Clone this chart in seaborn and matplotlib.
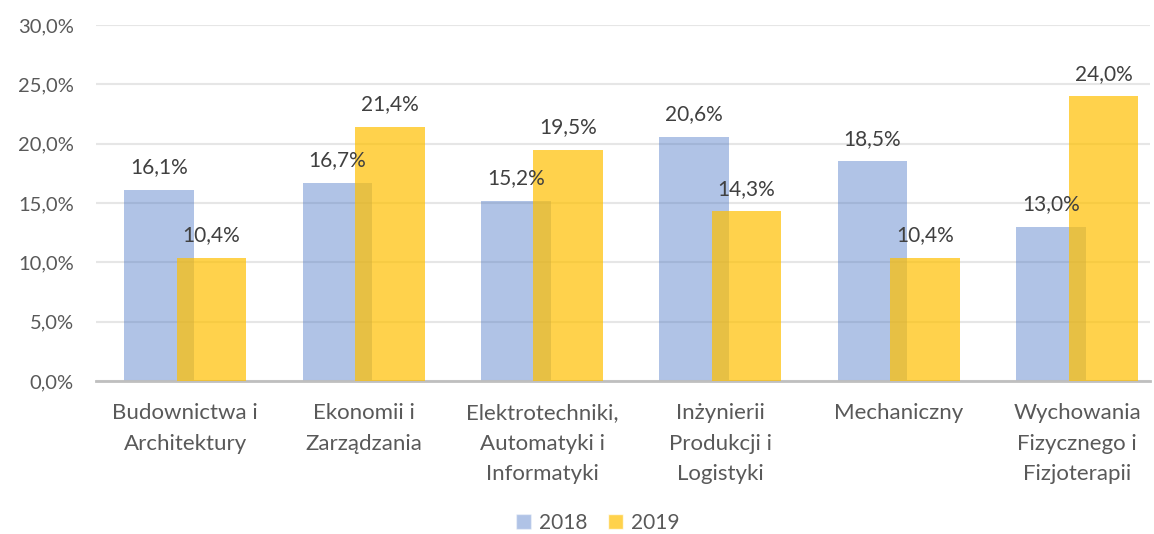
import numpy as np
import pandas as pd
import matplotlib.pyplot as plt
import seaborn as sns
from matplotlib.patches import Patch

categories = ["Budownictwa i\nArchitektury", "Ekonomii i\nZarządzania",
              "Elektrotechniki,\nAutomatyki i\nInformatyki", "Inżynierii\nProdukcji i\nLogistyki",
              "Mechaniczny", "Wychowania\nFizycznego i\nFizjoterapii"]
years = ["2018", "2019"]
values_2018 = [16.1, 16.7, 15.2, 20.6, 18.5, 13.0]
values_2019 = [10.4, 21.4, 19.5, 14.3, 10.4, 24.0]
y_ticks = [0, 5, 10, 15, 20, 25, 30]

blue = "#4472C4"
yellow = "#FFC000"
blue_alpha = 0.42
yellow_alpha = 0.7
label_color = "#595959"
value_color = "#404040"

sns.set_theme(style="white")
plt.rcParams['font.family'] = ['Lato', 'DejaVu Sans']

fig = plt.figure(figsize=(11.54, 5.34), dpi=100)
ax = fig.add_axes([96 / 1154, 153 / 534, 1054 / 1154, 356 / 534])

pos = np.arange(len(categories))
offset = 0.147
width = 0.39

df18 = pd.DataFrame({"x": pos - offset, "y": values_2018})
df19 = pd.DataFrame({"x": pos + offset, "y": values_2019})
sns.barplot(data=df18, x="x", y="y", native_scale=True, width=width,
            color=blue, saturation=1, alpha=blue_alpha, linewidth=0, ax=ax, zorder=2)
sns.barplot(data=df19, x="x", y="y", native_scale=True, width=width,
            color=yellow, saturation=1, alpha=yellow_alpha, linewidth=0, ax=ax, zorder=3)

for xs, vals in [(pos - offset, values_2018), (pos + offset, values_2019)]:
    for x, v in zip(xs, vals):
        ax.annotate(f"{v:.1f}%".replace(".", ","), (x, v), xytext=(0, 9),
                    textcoords="offset points", ha="center", va="bottom",
                    fontsize=15, color=value_color, zorder=5)

ax.set_xlim(-0.5, -0.5 + 1054 / 178.4)
ax.set_ylim(0, 30)
ax.set_yticks(y_ticks)
ax.set_yticklabels([f"{t:.1f}%".replace(".", ",") for t in y_ticks])
ax.set_xticks(pos)
ax.set_xticklabels(categories, linespacing=1.65)
ax.tick_params(axis="both", colors=label_color, length=0)
ax.tick_params(axis="x", labelsize=16, pad=16)
ax.tick_params(axis="y", labelsize=14.5, pad=16)
ax.set_xlabel("")
ax.set_ylabel("")

ax.yaxis.grid(True, color="#E6E6E6", linewidth=1.5, zorder=0)
ax.set_axisbelow(True)
for s in ["top", "right", "left"]:
    ax.spines[s].set_visible(False)
ax.spines["bottom"].set_color("#BFBFBF")
ax.spines["bottom"].set_linewidth(2)

handles = [Patch(facecolor=blue, alpha=blue_alpha, label=years[0]),
           Patch(facecolor=yellow, alpha=yellow_alpha, label=years[1])]
fig.legend(handles=handles, loc="center", bbox_to_anchor=(598 / 1154, 11 / 534),
           ncol=2, frameon=False, fontsize=15, handlelength=0.7, handleheight=0.7,
           handletextpad=0.4, columnspacing=1.0, labelcolor=label_color)

fig.savefig("out.png", dpi=100)
